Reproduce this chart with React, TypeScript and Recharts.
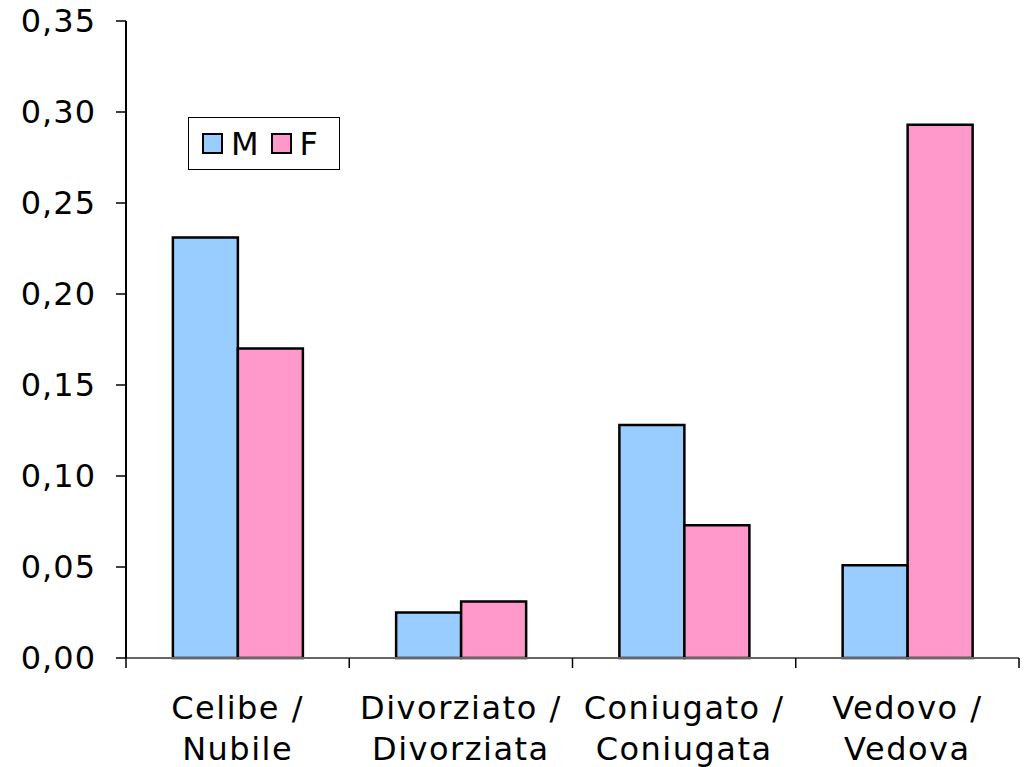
import { BarChart, Bar, XAxis, YAxis } from "recharts";

const categories = [
  ["Celibe /", "Nubile"],
  ["Divorziato /", "Divorziata"],
  ["Coniugato /", "Coniugata"],
  ["Vedovo /", "Vedova"],
];
const maleValues = [0.231, 0.025, 0.128, 0.051];
const femaleValues = [0.17, 0.031, 0.073, 0.293];
const yTicks = [0, 0.05, 0.1, 0.15, 0.2, 0.25, 0.3, 0.35];

const FONT = "'DejaVu Sans', Verdana, sans-serif";
const M_COLOR = "#99ccff";
const F_COLOR = "#ff99cc";
const X_TICK_SIZE = 10;
const X_TICK_MARGIN = 2;

const data = categories.map((lines, i) => ({
  name: lines.join(" "),
  M: maleValues[i],
  F: femaleValues[i],
}));

// label in two lines + tick marks on the category boundaries (Excel style)
function CategoryTick(props: any) {
  const { x, y, payload, index, visibleTicksCount } = props;
  const lines = categories[payload.index ?? index] ?? [payload.value];
  const half = payload.offset ?? 0;
  const axisY = y - X_TICK_SIZE - X_TICK_MARGIN;
  const edges = [x - half];
  if (index === visibleTicksCount - 1) edges.push(x + half);
  return (
    <g>
      {edges.map((ex, i) => (
        <line
          key={i}
          x1={ex}
          x2={ex}
          y1={axisY}
          y2={axisY + X_TICK_SIZE}
          stroke="#000"
          strokeWidth={1.5}
        />
      ))}
      <text
        x={x}
        y={y}
        textAnchor="middle"
        fill="#000"
        fontFamily={FONT}
        fontSize={32}
        letterSpacing={1.5}
      >
        {lines.map((line, i) => (
          <tspan key={i} x={x} dy={i === 0 ? 49 : 41}>
            {line}
          </tspan>
        ))}
      </text>
    </g>
  );
}

function LegendBox() {
  const item = (label: string, color: string) => (
    <div style={{ display: "flex", alignItems: "center", marginRight: 12 }}>
      <div
        style={{
          width: 17,
          height: 17,
          background: color,
          border: "2px solid #000",
          marginRight: 8,
        }}
      />
      <span style={{ fontFamily: FONT, fontSize: 32, lineHeight: "36px" }}>
        {label}
      </span>
    </div>
  );
  return (
    <div
      style={{
        position: "absolute",
        left: 188,
        top: 117,
        display: "flex",
        alignItems: "center",
        border: "1px solid #000",
        background: "#fff",
        width: 152,
        height: 53,
        boxSizing: "border-box",
        paddingLeft: 13,
      }}
    >
      {item("M", M_COLOR)}
      {item("F", F_COLOR)}
    </div>
  );
}

export default function App() {
  return (
    <div style={{ position: "absolute", left: 0, top: 0, background: "#fff" }}>
      <BarChart
        width={1024}
        height={767}
        data={data}
        margin={{ top: 21, right: 5, bottom: 0, left: 0 }}
        barCategoryGap="21%"
        barGap={0}
      >
        <XAxis
          xAxisId="top"
          orientation="top"
          dataKey="name"
          height={0}
          tick={false}
          tickLine={false}
          axisLine={{ stroke: "#808080", strokeWidth: 2 }}
        />
        <YAxis
          yAxisId="right"
          orientation="right"
          width={0}
          domain={[0, 0.35]}
          ticks={yTicks}
          tick={false}
          tickLine={false}
          axisLine={{ stroke: "#808080", strokeWidth: 2 }}
        />
        <XAxis
          dataKey="name"
          height={109}
          interval={0}
          tick={<CategoryTick />}
          tickSize={X_TICK_SIZE}
          tickMargin={X_TICK_MARGIN}
          tickLine={false}
          axisLine={{ stroke: "#666", strokeWidth: 2 }}
          scale="band"
        />
        <YAxis
          width={126}
          domain={[0, 0.35]}
          ticks={yTicks}
          interval={0}
          tickFormatter={(v: number) => v.toFixed(2).replace(".", ",")}
          tick={{ fill: "#000", fontFamily: FONT, fontSize: 32, letterSpacing: 1 }}
          tickSize={10}
          tickMargin={20}
          tickLine={{ stroke: "#000", strokeWidth: 1.5 }}
          axisLine={{ stroke: "#000", strokeWidth: 2 }}
        />
        <Bar dataKey="M" fill={M_COLOR} stroke="#000" strokeWidth={2.5} isAnimationActive={false} />
        <Bar dataKey="F" fill={F_COLOR} stroke="#000" strokeWidth={2.5} isAnimationActive={false} />
      </BarChart>
      <LegendBox />
    </div>
  );
}
